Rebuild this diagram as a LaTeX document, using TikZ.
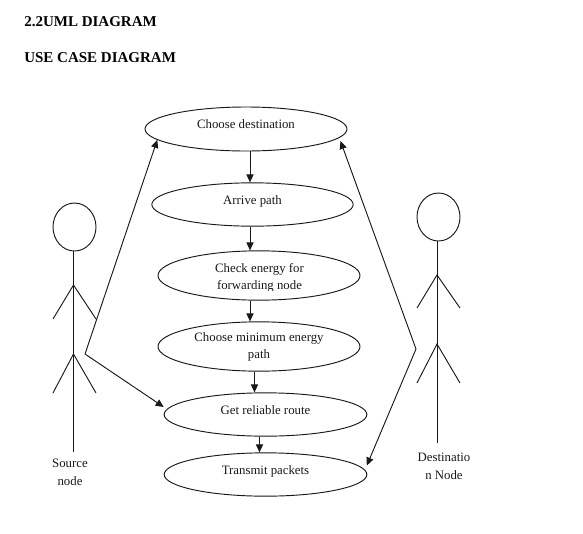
\documentclass[tikz,border=0pt]{standalone}
\usepackage{fontspec}
\setmainfont{Liberation Serif}
\usetikzlibrary{shapes.geometric,arrows.meta,calc}
\newcommand{\uctext}[2]{\raisebox{#1}[0pt][0pt]{\begin{tabular}[t]{@{}c@{}}#2\end{tabular}}}
\tikzset{
  x=0.75pt,y=-0.75pt,
  ln/.style={line width=0.7pt,black!90},
  usecase/.style={ellipse,draw,ln,inner sep=0pt,font=\fontsize{9.6}{12.9}\selectfont,text=black!90},
  flow/.style={ln,-{Triangle[length=6pt,width=5.4pt]}},
  link/.style={ln,-{Triangle[length=6pt,width=5.4pt]}},
  actorhead/.style={ellipse,draw,ln,inner sep=0pt,minimum width=32.25pt,minimum height=36pt},
  actorlabel/.style={font=\fontsize{9.6}{12.9}\selectfont,align=center,anchor=base,text=black!90},
  heading/.style={font=\fontsize{11.25}{13}\selectfont\bfseries,anchor=base west,inner sep=0pt,text=black}
}
\begin{document}
\begin{tikzpicture}
\useasboundingbox (0,0) rectangle (583,533);
\fill[white] (0,0) rectangle (583,533);
\node[heading] (title1) at (24,26) {2.2UML DIAGRAM};
\node[heading] (title2) at (24,62) {USE CASE DIAGRAM};

% use cases
\node[usecase,minimum width=151.5pt,minimum height=33pt] (e1) at (246,129) {\uctext{0.2pt}{Choose destination}};
\node[usecase,minimum width=151pt,minimum height=32.5pt] (e2) at (252.5,204.5) {\uctext{0.2pt}{Arrive path}};
\node[usecase,minimum width=151.5pt,minimum height=37pt] (e3) at (259,275.5) {};
\begin{scope}
  \clip (150,255) rectangle (370,290);
  \node[font=\fontsize{9.6}{12.9}\selectfont,anchor=center,text=black!90,inner sep=0pt] (e3text) at (259.5,277.5) {\begin{tabular}{@{}c@{}}Check energy for\\forwarding node\end{tabular}};
\end{scope}
\node[usecase,minimum width=151.5pt,minimum height=37pt] (e4) at (259,346.5) {\uctext{3.8pt}{Choose minimum energy\\path}};
\node[usecase,minimum width=152pt,minimum height=32.5pt] (e5) at (265.5,414.5) {\uctext{0.2pt}{Get reliable route}};
\node[usecase,minimum width=152pt,minimum height=32.5pt] (e6) at (265.5,474.5) {\uctext{0.2pt}{Transmit packets}};

% flow
\coordinate (a1) at (250,0);
\coordinate (a2) at (254.5,0);
\coordinate (a3) at (259.5,0);
\draw[flow] (e1.south -| a1) -- (e2.north -| a1);
\draw[flow] (e2.south -| a1) -- (e3.north -| a1);
\draw[flow] (e3.south -| a1) -- (e4.north -| a1);
\draw[flow] (e4.south -| a2) -- (e5.north -| a2);
\draw[flow] (e5.south -| a3) -- (e6.north -| a3);

% source actor
\node[actorhead] (shead) at (74.5,227) {};
\coordinate (sfoot) at (73.5,452);
\coordinate (sarm) at (73.5,285);
\coordinate (sleg) at (73.5,354);
\draw[ln] (shead.south -| sfoot) -- (sfoot);
\draw[ln] (53,319) -- (sarm) -- (96,319);
\draw[ln] (53,393) -- (sleg) -- (96,393);
\node[actorlabel] (slabel1) at (70,467) {Source};
\node[actorlabel] (slabel2) at (70,485) {node};

% destination actor
\node[actorhead] (dhead) at (438.5,217) {};
\coordinate (dfoot) at (437,443);
\coordinate (darm) at (437,275);
\coordinate (dleg) at (437,344);
\draw[ln] (dhead.south -| dfoot) -- (dfoot);
\draw[ln] (417,308) -- (darm) -- (460,308);
\draw[ln] (417,383) -- (dleg) -- (460,383);
\node[actorlabel] (dlabel1) at (444,461) {Destinatio};
\node[actorlabel] (dlabel2) at (444,479) {n Node};

% actor links
\coordinate (selbow) at (85,354);
\coordinate (delbow) at (416,349);
\draw[link] (selbow) -- (e1.187);
\draw[link] (selbow) -- ([shift={(0,-7.5)}]e5.west);
\draw[link] (delbow) -- ([shift={(-7,12)}]e1.east);
\draw[link] (delbow) -- ([shift={(-0.5,-9)}]e6.east);
\end{tikzpicture}
\end{document}
